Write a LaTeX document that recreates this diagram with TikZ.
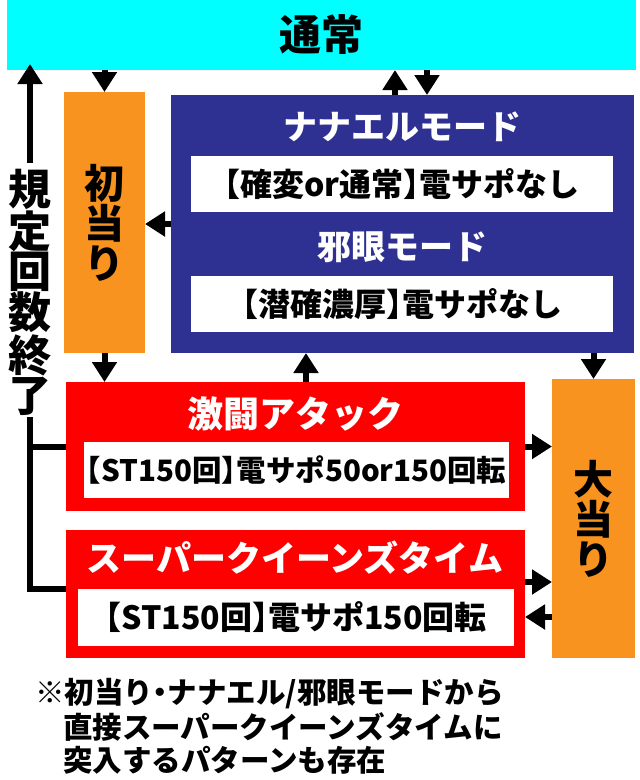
\documentclass[tikz,border=0pt]{standalone}
\usepackage{fontspec}
\IfFontExistsTF{Noto Sans CJK JP Black}
  {\setmainfont{Noto Sans CJK JP}[BoldFont={* Black}]}
  {\setmainfont{Noto Sans CJK JP}[BoldFont={* Bold}]}
\newcommand\hw[1]{{\addfontfeatures{RawFeature=+halt}#1}}
\usetikzlibrary{arrows.meta}
\definecolor{tcyan}{HTML}{00FFFF}
\definecolor{torange}{HTML}{F7931E}
\definecolor{tblue}{HTML}{2E3192}
\definecolor{tred}{HTML}{FF0000}
\begin{document}
\begin{tikzpicture}[x=1pt,y=-1pt,
  box/.style={draw=none, inner sep=0pt, outer sep=0pt, anchor=north west},
  wbox/.style={box, fill=white, font=\bfseries\fontsize{32}{32}\selectfont},
  ttl/.style={text=white, inner sep=0pt, font=\bfseries\fontsize{34}{34}\selectfont},
  vtxt/.style={align=center, font=\bfseries\fontsize{40}{40}\selectfont},
  fnote/.style={anchor=west, inner sep=0pt, font=\bfseries\fontsize{29.5}{30}\selectfont},
  arr/.style={line width=6pt, -{Triangle[width=24pt,length=20pt]}},
  ln/.style={line width=6pt, line join=miter},
]
\useasboundingbox (0,0) rectangle (640,780);
\fill[white] (0,0) rectangle (640,780);

% boxes
\node[box, fill=tcyan, minimum width=629pt, minimum height=70pt,
      font=\bfseries\fontsize{42}{42}\selectfont] (tsujo) at (7,0) {通常};
\node[box, fill=torange, minimum width=81pt, minimum height=261pt, vtxt] (hatsu) at (64,92) {初\\当\\り};
\node[box, fill=tblue, minimum width=463pt, minimum height=258pt] (blue) at (171,95) {};
\node[ttl] (t1) at (402,127) {ナナエルモード};
\node[wbox, minimum width=422pt, minimum height=56pt] (wb1) at (191,156) {\hw{【}確変or通常\hw{】}電サポなし};
\node[ttl] (t2) at (402,247) {邪眼モード};
\node[wbox, minimum width=422pt, minimum height=56pt] (wb2) at (191,276) {\hw{【}潜確濃厚\hw{】}電サポなし};

\node[box, fill=tred, minimum width=459pt, minimum height=129pt] (red1) at (66,382) {};
\node[ttl, font=\bfseries\fontsize{36}{36}\selectfont] (t3) at (295,414) {激闘アタック};
\node[wbox, minimum width=425pt, minimum height=56pt, font=\bfseries\fontsize{29.5}{29.5}\selectfont] (wb3) at (84,442) {\hw{【}ST150回\hw{】}電サポ50or150回転};

\node[box, fill=tred, minimum width=459pt, minimum height=128pt] (red2) at (66,530) {};
\node[ttl, font=\bfseries\fontsize{35}{35}\selectfont] (t4) at (295,558) {スーパークイーンズタイム};
\node[wbox, minimum width=436pt, minimum height=57pt] (wb4) at (78,589) {\hw{【}ST150回\hw{】}電サポ150回転};

\node[box, fill=torange, minimum width=83pt, minimum height=279pt, vtxt] (ooatari) at (552,379) {大\\当\\り};

% left side label
\node[align=center, inner sep=0pt, font=\bfseries\fontsize{43}{40}\selectfont] (kitei) at (30,292) {規\\定\\回\\数\\終\\了};
\coordinate (kb) at (30,589);

% connectors
\draw[arr] (tsujo.south -| hatsu.north) -- (hatsu.north);
\draw[arr] ([xshift=224pt]blue.north west) -- ([xshift=224pt]blue.north west |- tsujo.south);
\draw[arr] ([xshift=256pt]blue.north west |- tsujo.south) -- ([xshift=256pt]blue.north west);
\draw[arr] (blue.west) -- (blue.west -| hatsu.east);
\draw[arr] (hatsu.south) -- (hatsu.south |- red1.north);
\draw[arr] ([xshift=240pt]red1.north west) -- ([xshift=240pt]red1.north west |- blue.south);
\draw[arr] (blue.south -| ooatari.north) -- (ooatari.north);
\draw[arr] (red1.east) -- (red1.east -| ooatari.west);
\draw[arr] ([yshift=-52pt]red2.north east) -- ([yshift=-52pt]red2.north east -| ooatari.west);
\draw[arr] ([yshift=-87pt]red2.north east -| ooatari.west) -- ([yshift=-87pt]red2.north east);

\draw[arr] ([yshift=6pt]kitei.north) -- ([yshift=6pt]kitei.north |- tsujo.south);
\draw[ln] ([yshift=-2pt]kitei.south) -- (kb) -- (kb -| red2.west);
\draw[ln] (red1.west -| kb) -- (red1.west);

% footnote
\node[fnote] (fn1) at (35,694) {※初当り\hw{・}ナナエル/邪眼モードから};
\node[fnote] (fn2) at (63,727) {直接スーパークイーンズタイムに};
\node[fnote] (fn3) at (63,760) {突入するパターンも存在};
\end{tikzpicture}
\end{document}
